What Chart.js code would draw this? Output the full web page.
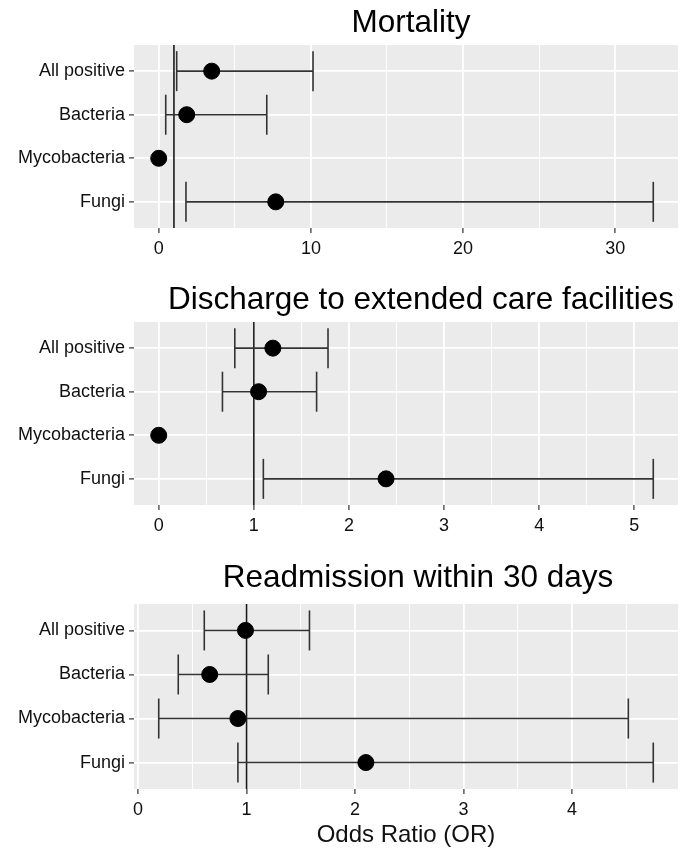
<!DOCTYPE html>
<html lang="en">
<head>
<meta charset="UTF-8">
<title>Odds ratios by culture result</title>
<script src="https://cdnjs.cloudflare.com/ajax/libs/Chart.js/4.4.1/chart.umd.min.js"></script>
<style>
  body { margin: 0; background: #fff; font-family: 'Liberation Sans', Arial, sans-serif; }
  .page { position: relative; width: 680px; height: 852px; overflow: hidden; }
  .panel { position: absolute; left: 0; width: 680px; }
  .panel canvas { display: block; }
  .title {
    position: absolute; width: 600px; text-align: center; white-space: nowrap;
    font-size: 31.5px; line-height: 31.5px; color: #000;
  }
</style>
</head>
<body>
<div class="page">
  <div class="panel" style="top:0px"><canvas id="mort" width="680" height="270"></canvas></div>
  <div class="panel" style="top:270px"><canvas id="disc" width="680" height="280"></canvas></div>
  <div class="panel" style="top:550px"><canvas id="read" width="680" height="302"></canvas></div>
  <div class="title" style="left:111px; top:6px">Mortality</div>
  <div class="title" style="left:121px; top:283px">Discharge to extended care facilities</div>
  <div class="title" style="left:118px; top:561px">Readmission within 30 days</div>
</div>

<script>
// categories, top to bottom
const categories = ['All positive', 'Bacteria', 'Mycobacteria', 'Fungi'];

// Mortality
const mortOR = [3.48, 1.84, 0, 7.69];
const mortLo = [1.18, 0.46, null, 1.79];
const mortHi = [10.14, 7.1, null, 32.5];
const mortTicks = [0, 10, 20, 30];

// Discharge to extended care facilities
const discOR = [1.2, 1.05, 0, 2.39];
const discLo = [0.8, 0.67, null, 1.1];
const discHi = [1.78, 1.66, null, 5.2];
const discTicks = [0, 1, 2, 3, 4, 5];

// Readmission within 30 days
const readOR = [0.99, 0.66, 0.92, 2.1];
const readLo = [0.61, 0.37, 0.19, 0.92];
const readHi = [1.58, 1.2, 4.52, 4.75];
const readTicks = [0, 1, 2, 3, 4];

const refLine = 1;

const FONT = "'Liberation Sans', Arial, sans-serif";
const INK = '#333333';

// grey panel like ggplot's theme_gray
const panelBg = {
  id: 'panelBg',
  beforeDraw(chart) {
    const { ctx, chartArea: a } = chart;
    ctx.save();
    ctx.fillStyle = '#EBEBEB';
    ctx.fillRect(a.left, a.top, a.right - a.left, a.bottom - a.top);
    ctx.restore();
  }
};

function rowY(i) { return categories.length - i; }

function makePanel(id, or, lo, hi, majors, padTop, xHeight, xTitle) {
  // ggplot default 5% expansion
  const vals = or.concat(lo, hi).filter(v => v !== null);
  const dMin = Math.min(...vals), dMax = Math.max(...vals);
  const pad = (dMax - dMin) * 0.05;
  const xMin = dMin - pad, xMax = dMax + pad;
  const yMin = 0.4, yMax = categories.length + 0.6;

  // minor grid halfway between majors
  const step = majors[1] - majors[0];
  const minors = [];
  for (let k = -1; k < majors.length; k++) {
    const v = majors[0] + (k + 0.5) * step;
    if (v > xMin && v < xMax) minors.push(v);
  }
  const isMajor = v => majors.some(m => Math.abs(m - v) < 1e-9);
  const gridVals = majors.concat(minors).sort((a, b) => a - b);

  const datasets = [];
  datasets.push({
    label: 'OR',
    data: or.map((v, i) => ({ x: v, y: rowY(i) })),
    pointRadius: 8,
    pointBackgroundColor: '#000',
    pointBorderColor: '#000',
    pointBorderWidth: 1,
    showLine: false
  });
  lo.forEach((l, i) => {
    if (l === null) return;
    datasets.push({
      label: categories[i] + ' CI',
      data: [{ x: l, y: rowY(i) }, { x: hi[i], y: rowY(i) }],
      showLine: true,
      borderColor: INK,
      borderWidth: 1.6,
      pointStyle: 'line',
      rotation: 90,
      pointRadius: 20,
      pointBorderColor: INK,
      pointBorderWidth: 1.6
    });
  });
  datasets.push({
    label: 'OR = 1',
    data: [{ x: refLine, y: yMin }, { x: refLine, y: yMax }],
    showLine: true,
    borderColor: '#1a1a1a',
    borderWidth: 1.6,
    pointRadius: 0
  });

  new Chart(document.getElementById(id), {
    type: 'scatter',
    data: { datasets },
    plugins: [panelBg],
    options: {
      responsive: false,
      animation: false,
      events: [],
      layout: { autoPadding: false, padding: { top: padTop, right: 2, left: 0, bottom: 0 } },
      plugins: { legend: { display: false }, tooltip: { enabled: false }, title: { display: false } },
      scales: {
        x: {
          type: 'linear',
          min: xMin,
          max: xMax,
          afterBuildTicks: s => { s.ticks = gridVals.map(v => ({ value: v })); },
          afterFit: s => { s.height = xHeight; },
          border: { display: false },
          grid: {
            color: '#FFFFFF',
            lineWidth: c => isMajor(c.tick.value) ? 1.8 : 0.9,
            tickColor: c => isMajor(c.tick.value) ? INK : 'rgba(0,0,0,0)',
            tickLength: 5,
            tickWidth: 1.2
          },
          ticks: {
            autoSkip: false,
            maxRotation: 0,
            padding: 5,
            color: '#111',
            font: { family: FONT, size: 18 },
            callback: v => isMajor(v) ? String(v) : ''
          },
          title: {
            display: !!xTitle,
            text: xTitle || '',
            color: '#111',
            font: { family: FONT, size: 24 },
            padding: { top: 0, bottom: 2 }
          }
        },
        y: {
          type: 'linear',
          min: yMin,
          max: yMax,
          afterBuildTicks: s => { s.ticks = categories.map((c, i) => ({ value: rowY(i) })); },
          afterFit: s => { s.width = 134; },
          border: { display: false },
          grid: {
            color: '#FFFFFF',
            lineWidth: 1.8,
            tickColor: INK,
            tickLength: 5,
            tickWidth: 1.2
          },
          ticks: {
            autoSkip: false,
            padding: 4,
            color: '#111',
            font: { family: FONT, size: 18 },
            callback: v => categories[categories.length - v]
          }
        }
      }
    }
  });
}

makePanel('mort', mortOR, mortLo, mortHi, mortTicks, 45, 42, null);
makePanel('disc', discOR, discLo, discHi, discTicks, 52, 45, null);
makePanel('read', readOR, readLo, readHi, readTicks, 54, 63, 'Odds Ratio (OR)');
</script>
</body>
</html>
